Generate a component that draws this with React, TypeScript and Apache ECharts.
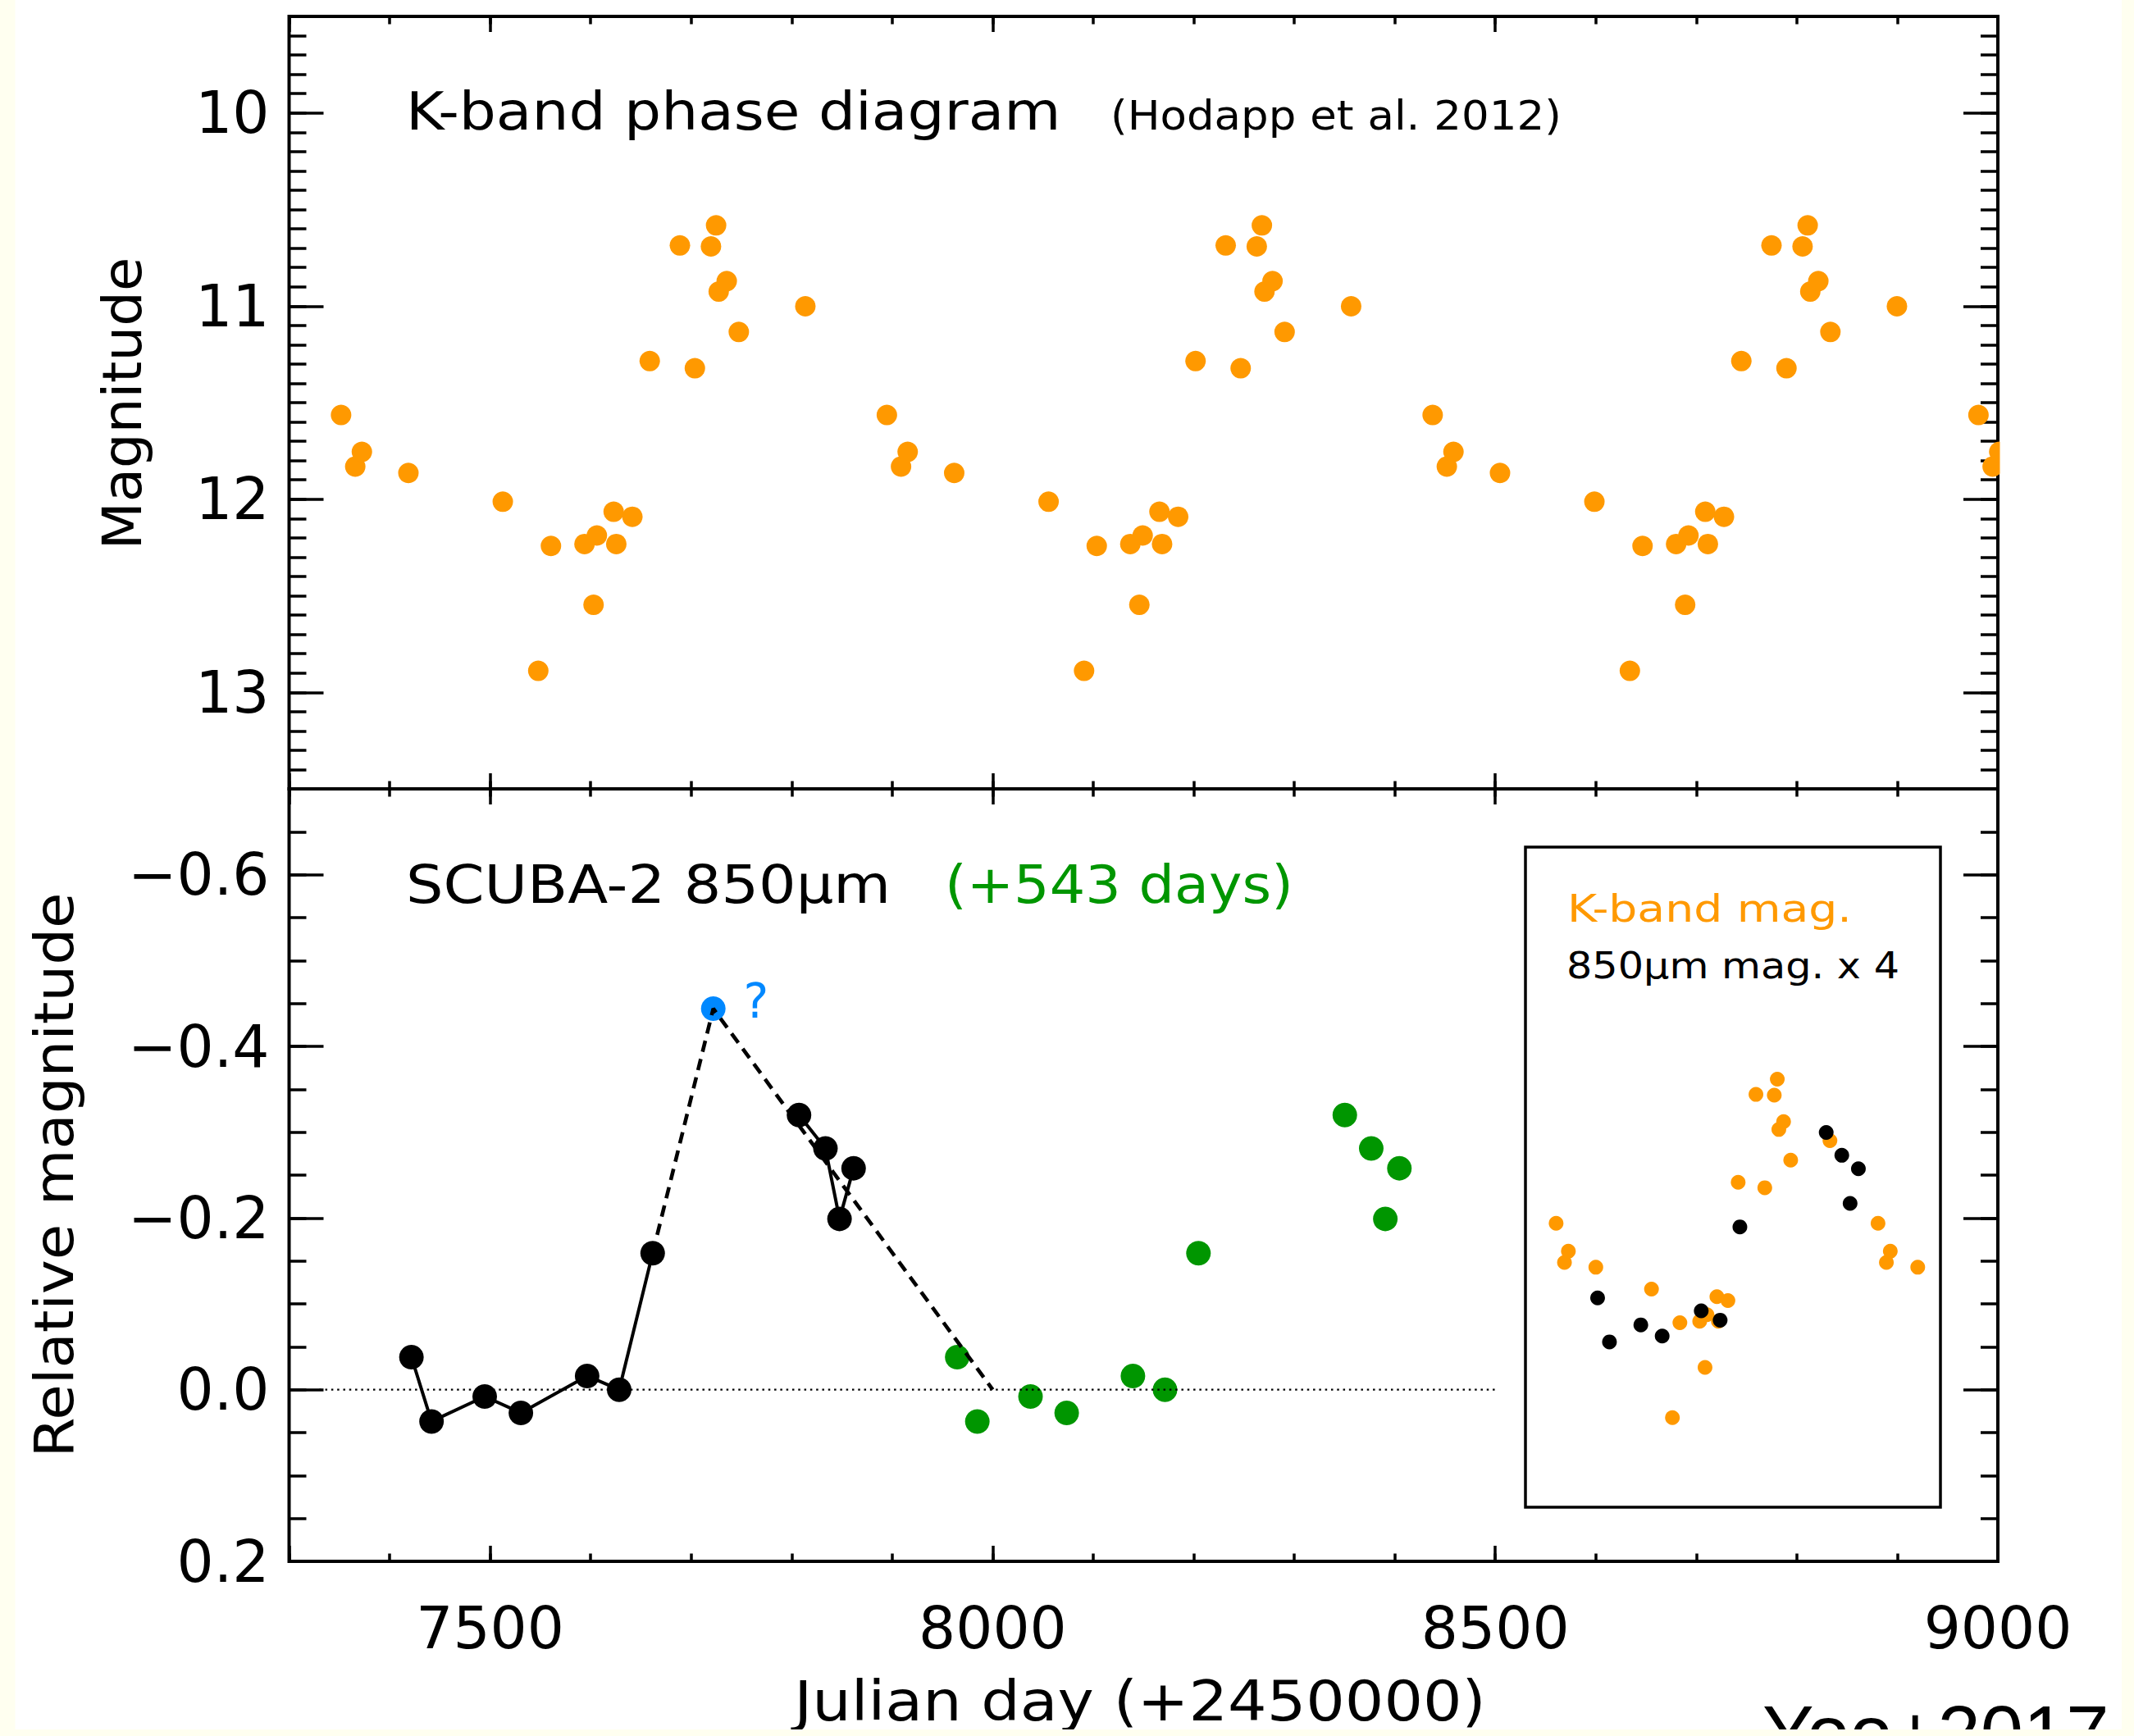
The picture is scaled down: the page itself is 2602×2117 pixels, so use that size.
import React, { useEffect, useRef } from "react";
import * as echarts from "echarts";

// ---------------- data ----------------
// K-band phase diagram: one cycle (Julian day - 2450000, K magnitude)
const K_DAYS = [7351.7, 7365.8, 7372.4, 7418.7, 7512.6, 7547.9, 7560.5, 7593.9, 7602.9, 7606.2, 7622.9, 7625.5, 7641.5, 7658.8, 7688.8, 7703.7, 7719.7, 7724.8, 7727.4, 7735.4, 7747.4, 7813.6];
const K_MAG = [11.564, 11.831, 11.755, 11.864, 12.013, 12.889, 12.242, 12.232, 12.547, 12.188, 12.065, 12.232, 12.091, 11.285, 10.686, 11.322, 10.691, 10.582, 10.925, 10.871, 11.134, 11.001];
// the phase diagram is repeated with the 543-day period
const PHASE_SHIFTS = [0, 543, 1086, 1629];

// SCUBA-2 850 micron relative magnitudes
const SCUBA_DAYS = [7421.7, 7441.7, 7494.6, 7530.6, 7596.5, 7628.4, 7661.7, 7807.3, 7833.6, 7847.6, 7861.6];
const SCUBA_REL = [-0.038, 0.037, 0.008, 0.027, -0.016, 0.0, -0.159, -0.32, -0.281, -0.199, -0.258];
const QUERY_DAY = 7722.0;
const QUERY_REL = -0.444;
const DASH_END = [8000, 0.0];
const ZERO_LINE_DAYS = [7330, 8500];
const GREEN_SHIFT = 543;

// inset: 850 micron mag x 4 plus offset on the K scale
const INSET_SCALE = 4;
const INSET_OFFSET = 12.225;
const INSET_X_RANGE = [7300, 8000];
const INSET_Y_RANGE = [9.0, 13.5];

// tick labels
const X_TICKS = [7500, 8000, 8500, 9000];
const TOP_Y_TICKS = [10, 11, 12, 13];
const BOTTOM_Y_TICKS = [-0.6, -0.4, -0.2, 0.0, 0.2];

// ---------------- styles ----------------
const ORANGE = "#ff9900";
const GREEN = "#009600";
const BLUE = "#0088ff";
const CREAM = "#fffff0";
const FONT = "DejaVu Sans";

const W = 2602;
const H = 2117;
const GRID_LEFT = 352.5;
const GRID_W = 2083.5;
const TOP_Y0 = 20;
const PANEL_H = 942;

const TICK_STYLE = { color: "#000", width: 3.5 };

const near = (list: number[], v: number) => list.some((t) => Math.abs(t - v) < 1e-6);

function xAxis(gridIndex: number, position: string, major: boolean, labels: boolean) {
  return {
    type: "value",
    gridIndex,
    position,
    min: 7300,
    max: 9000,
    ...(major ? { splitNumber: 4 } : { interval: 100 }),
    axisLine: { show: false, onZero: false },
    axisTick: { show: true, inside: true, length: major ? 19 : 9.5, lineStyle: TICK_STYLE },
    axisLabel: labels
      ? {
          show: true,
          margin: 46,
          color: "#000",
          fontFamily: FONT,
          fontSize: 71,
          formatter: (v: number) => (near(X_TICKS, v) ? String(Math.round(v)) : ""),
        }
      : { show: false },
    splitLine: { show: false },
    minorTick: { show: false },
  };
}

function yAxis(
  gridIndex: number,
  position: string,
  major: boolean,
  min: number,
  max: number,
  splitNumber: number,
  minorInterval: number,
  ticks: number[] | null,
  fmt: (v: number) => string
) {
  return {
    type: "value",
    gridIndex,
    position,
    min,
    max,
    inverse: true,
    ...(major ? { splitNumber } : { interval: minorInterval }),
    axisLine: { show: false, onZero: false },
    axisTick: { show: true, inside: true, length: major ? 42 : 21, lineStyle: TICK_STYLE },
    axisLabel: ticks
      ? {
          show: true,
          margin: 24,
          color: "#000",
          fontFamily: FONT,
          fontSize: 71,
          formatter: (v: number) => (near(ticks, v) ? fmt(v) : ""),
        }
      : { show: false },
    splitLine: { show: false },
    minorTick: { show: false },
  };
}

function txt(
  text: string,
  x: number,
  y: number,
  size: number,
  color: string,
  opts: { align?: string; rotation?: number; scaleX?: number; family?: string } = {}
) {
  const align = opts.align || "left";
  return {
    type: "text",
    x,
    y,
    rotation: opts.rotation || 0,
    scaleX: opts.scaleX || 1,
    z: 20,
    silent: true,
    style: {
      text,
      fill: color,
      fontSize: size,
      fontFamily: opts.family || FONT,
      align,
      verticalAlign: "middle",
      textAlign: align,
      textVerticalAlign: "middle",
    },
  };
}

function dots(xi: number, data: number[][], size: number, color: string) {
  return {
    type: "scatter",
    xAxisIndex: xi,
    yAxisIndex: xi,
    data,
    symbol: "circle",
    symbolSize: size,
    itemStyle: { color, opacity: 1 },
    silent: true,
  };
}

function path(data: number[][], width: number, type: any) {
  return {
    type: "line",
    xAxisIndex: 4,
    yAxisIndex: 4,
    data,
    symbol: "none",
    lineStyle: { color: "#000", width, type, opacity: 1 },
    silent: true,
  };
}

export default function App() {
  const ref = useRef<HTMLDivElement>(null);

  useEffect(() => {
    if (!ref.current) return;
    const chart = echarts.init(ref.current, null, { renderer: "svg", width: W, height: H });

    const kTop = PHASE_SHIFTS.flatMap((s) => K_DAYS.map((d, i) => [d + s, K_MAG[i]]));
    const kInset = kTop.filter((p) => p[0] >= INSET_X_RANGE[0] && p[0] <= INSET_X_RANGE[1]);
    const black = SCUBA_DAYS.map((d, i) => [d, SCUBA_REL[i]]);
    const green = SCUBA_DAYS.map((d, i) => [d + GREEN_SHIFT, SCUBA_REL[i]]);
    const insetBlack = SCUBA_DAYS.map((d, i) => [d, INSET_OFFSET + INSET_SCALE * SCUBA_REL[i]]);
    const solidA = black.slice(0, 7);
    const solidB = black.slice(7);
    const dashed = [black[6], [QUERY_DAY, QUERY_REL], DASH_END];
    const zero = ZERO_LINE_DAYS.map((d) => [d, 0]);

    const topFmt = (v: number) => String(Math.round(v));
    const botFmt = (v: number) => (v < -1e-9 ? "\u2212" + Math.abs(v).toFixed(1) : Math.abs(v).toFixed(1));

    const gridBase = {
      show: true,
      borderColor: "#000",
      borderWidth: 4,
      backgroundColor: "transparent",
      containLabel: false,
      outerBoundsMode: "none",
    };

    const topDots: any = dots(0, kTop, 25, ORANGE);
    topDots.clip = false;

    const option: any = {
      animation: false,
      backgroundColor: "#ffffff",
      grid: [
        { ...gridBase, left: GRID_LEFT, top: TOP_Y0, width: GRID_W, height: PANEL_H },
        { ...gridBase, left: GRID_LEFT, top: TOP_Y0 + PANEL_H, width: GRID_W, height: PANEL_H },
        { ...gridBase, borderWidth: 3.5, left: 1860, top: 1033, width: 506, height: 805 },
      ],
      xAxis: [
        xAxis(0, "bottom", true, false),
        xAxis(0, "bottom", false, false),
        xAxis(0, "top", true, false),
        xAxis(0, "top", false, false),
        xAxis(1, "bottom", true, true),
        xAxis(1, "bottom", false, false),
        xAxis(1, "top", true, false),
        xAxis(1, "top", false, false),
        { type: "value", gridIndex: 2, min: INSET_X_RANGE[0], max: INSET_X_RANGE[1], show: false },
      ],
      yAxis: [
        yAxis(0, "left", true, 9.5, 13.5, 4, 0.1, TOP_Y_TICKS, topFmt),
        yAxis(0, "left", false, 9.5, 13.5, 4, 0.1, null, topFmt),
        yAxis(0, "right", true, 9.5, 13.5, 4, 0.1, null, topFmt),
        yAxis(0, "right", false, 9.5, 13.5, 4, 0.1, null, topFmt),
        yAxis(1, "left", true, -0.7, 0.2, 5, 0.05, BOTTOM_Y_TICKS, botFmt),
        yAxis(1, "left", false, -0.7, 0.2, 5, 0.05, null, botFmt),
        yAxis(1, "right", true, -0.7, 0.2, 5, 0.05, null, botFmt),
        yAxis(1, "right", false, -0.7, 0.2, 5, 0.05, null, botFmt),
        { type: "value", gridIndex: 2, min: INSET_Y_RANGE[0], max: INSET_Y_RANGE[1], inverse: true, show: false },
      ],
      series: [
        topDots,
        path(zero, 2.2, [2.5, 4.8]),
        path(dashed, 4.6, [14, 9]),
        path(solidA, 4, "solid"),
        path(solidB, 4, "solid"),
        dots(4, black, 30, "#000"),
        dots(4, [[QUERY_DAY, QUERY_REL]], 30, BLUE),
        dots(4, green, 30, GREEN),
        dots(8, kInset, 18, ORANGE),
        dots(8, insetBlack, 18, "#000"),
      ],
      graphic: {
        elements: [
          // cover for dots running past the right edge of the top panel
          {
            type: "rect",
            z: 50,
            silent: true,
            shape: { x: 2438.5, y: 0, width: 160, height: 960 },
            style: { fill: "#ffffff" },
          },
          txt("K-band phase diagram", 495, 136, 64, "#000", { scaleX: 1.11 }),
          txt("(Hodapp et al. 2012)", 1354, 141, 50, "#000", { scaleX: 1.06 }),
          txt("SCUBA-2 850\u03bcm", 495, 1079, 64, "#000", { scaleX: 1.12 }),
          txt("(+543 days)", 1152, 1079, 64, GREEN, { scaleX: 1.07 }),
          txt("?", 922, 1221, 58, BLUE, { align: "center" }),
          txt("K-band mag.", 1911, 1108, 46, ORANGE, { scaleX: 1.2 }),
          txt("850\u03bcm mag. x 4", 1910, 1178, 44, "#000", { scaleX: 1.12 }),
          txt("Magnitude", 149, 492, 66, "#000", { align: "center", rotation: Math.PI / 2, scaleX: 1.02 }),
          txt("Relative magnitude", 66, 1433, 66, "#000", { align: "center", rotation: Math.PI / 2, scaleX: 1.07 }),
          txt("Julian day (+2450000)", 1390, 2075, 68, "#000", { align: "center", scaleX: 1.1 }),
          txt("Yoo+2017", 2149, 2113, 94, "#000", { family: "Liberation Sans" }),
          // cream page margins
          { type: "rect", z: 100, silent: true, shape: { x: 0, y: 0, width: 18.5, height: H }, style: { fill: CREAM } },
          { type: "rect", z: 100, silent: true, shape: { x: 2587, y: 0, width: 20, height: H }, style: { fill: CREAM } },
          { type: "rect", z: 100, silent: true, shape: { x: 0, y: 2109, width: W, height: 10 }, style: { fill: CREAM } },
        ],
      },
    };

    chart.setOption(option);
    return () => chart.dispose();
  }, []);

  return (
    <div style={{ position: "fixed", left: 0, top: 0, width: W, height: H, overflow: "hidden", background: "#fff" }}>
      <div ref={ref} style={{ width: W, height: H }} />
    </div>
  );
}
